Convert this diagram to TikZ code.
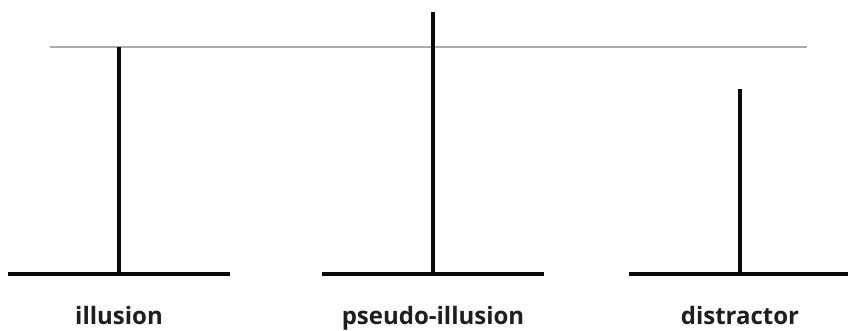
\documentclass[tikz,border=0pt]{standalone}
\usepackage{fontspec}
\setsansfont{Open Sans}
\usetikzlibrary{positioning}
\definecolor{ink}{HTML}{0A0A0A}
\definecolor{txt}{HTML}{1E1E1E}
\definecolor{refgrey}{HTML}{ABABAB}
\def\base{57}
\def\half{111}
\tikzset{
  stem/.style={ink,line width=4pt},
  refline/.style={refgrey,line width=1.8pt},
  lbl/.style={txt,font=\sffamily\bfseries\fontsize{24}{28}\selectfont,anchor=base,inner sep=0pt},
}
% one inverted T: name, x of stem, top of stem
\newcommand{\tfig}[3]{%
  \coordinate (#1-l) at (#2-\half,\base);
  \coordinate (#1-r) at (#2+\half,\base);
  \coordinate (#1-b) at (#2,\base);
  \coordinate (#1-t) at (#2,#3);
  \draw[stem] (#1-l) -- (#1-r);
  \draw[stem] (#1-b) -- (#1-t);}

\begin{document}
\begin{tikzpicture}[x=1pt,y=1pt]
\useasboundingbox (0,0) rectangle (848,331);

% ---------------------------------------------------------------- reference height
\coordinate (ref-l) at (50,284);
\coordinate (ref-r) at (807,284);
\draw[refline] (ref-l) -- (ref-r);

% ---------------------------------------------------------------- the three figures
\tfig{ill}{119}{284}
\tfig{pse}{433}{319}
\tfig{dis}{740}{242}

% ---------------------------------------------------------------- labels
\node[lbl] (ill-txt) at (119,6) {illusion};
\node[lbl] (pse-txt) at (433,6) {pseudo-illusion};
\node[lbl] (dis-txt) at (740,6) {distractor};

\end{tikzpicture}
\end{document}
